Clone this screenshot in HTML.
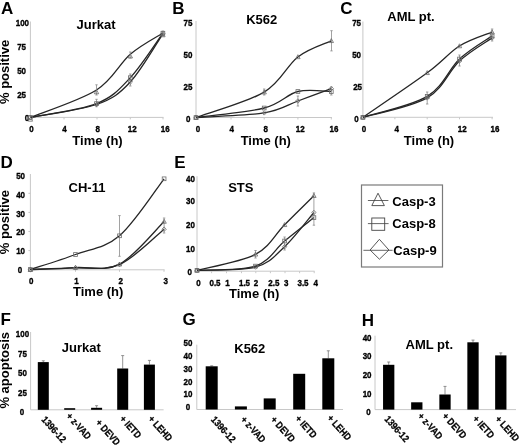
<!DOCTYPE html>
<html><head><meta charset="utf-8"><style>
html,body{margin:0;padding:0;background:#fff;width:520px;height:446px;overflow:hidden}
svg{display:block;filter:blur(0.35px)}
text{font-family:'Liberation Sans',sans-serif;font-weight:bold;fill:#000}
</style></head><body>
<svg width="520" height="446" viewBox="0 0 520 446">
<rect width="520" height="446" fill="#fff"/>
<text x="1.00" y="14.30" font-size="17" text-anchor="start" >A</text>
<text x="172.30" y="14.30" font-size="17" text-anchor="start" >B</text>
<text x="340.20" y="14.20" font-size="17" text-anchor="start" >C</text>
<text x="0.60" y="167.60" font-size="17" text-anchor="start" >D</text>
<text x="174.30" y="167.60" font-size="17" text-anchor="start" >E</text>
<text x="0.50" y="324.80" font-size="17" text-anchor="start" >F</text>
<text x="182.50" y="324.60" font-size="17" text-anchor="start" >G</text>
<text x="361.70" y="325.50" font-size="17" text-anchor="start" >H</text>
<text x="0" y="0" font-size="13" text-anchor="middle" transform="translate(9.4,71.9) rotate(-90)">% positive</text>
<text x="0" y="0" font-size="13" text-anchor="middle" transform="translate(9.4,222.1) rotate(-90)">% positive</text>
<text x="0" y="0" font-size="13" text-anchor="middle" transform="translate(9.4,370.3) rotate(-90)">% apoptosis</text>
<text x="96.10" y="29.30" font-size="13" text-anchor="middle" >Jurkat</text>
<text x="261.70" y="23.80" font-size="13" text-anchor="middle" >K562</text>
<text x="411.00" y="20.60" font-size="13" text-anchor="middle" >AML pt.</text>
<text x="87.00" y="192.30" font-size="13" text-anchor="middle" >CH-11</text>
<text x="240.80" y="192.10" font-size="13" text-anchor="middle" >STS</text>
<text x="81.30" y="352.30" font-size="13" text-anchor="middle" >Jurkat</text>
<text x="249.80" y="353.10" font-size="13" text-anchor="middle" >K562</text>
<text x="429.30" y="348.80" font-size="13" text-anchor="middle" >AML pt.</text>
<text x="97.50" y="145.20" font-size="13" text-anchor="middle" >Time (h)</text>
<text x="265.80" y="145.20" font-size="13" text-anchor="middle" >Time (h)</text>
<text x="429.00" y="145.00" font-size="13" text-anchor="middle" >Time (h)</text>
<text x="98.20" y="295.80" font-size="13" text-anchor="middle" >Time (h)</text>
<text x="254.20" y="298.20" font-size="13" text-anchor="middle" >Time (h)</text>
<line x1="30.40" y1="21.50" x2="30.40" y2="117.40" stroke="#c8c8c8" stroke-width="1"/>
<line x1="30.40" y1="117.40" x2="163.50" y2="117.40" stroke="#c8c8c8" stroke-width="1"/>
<line x1="64.00" y1="117.40" x2="64.00" y2="119.40" stroke="#c8c8c8" stroke-width="1"/>
<line x1="97.00" y1="117.40" x2="97.00" y2="119.40" stroke="#c8c8c8" stroke-width="1"/>
<line x1="130.30" y1="117.40" x2="130.30" y2="119.40" stroke="#c8c8c8" stroke-width="1"/>
<line x1="163.00" y1="117.40" x2="163.00" y2="119.40" stroke="#c8c8c8" stroke-width="1"/>
<text x="0" y="0" font-size="8" text-anchor="middle" transform="translate(22.40,25.50) scale(1,1.22)" stroke="#000" stroke-width="0.3" >100</text>
<text x="0" y="0" font-size="8" text-anchor="middle" transform="translate(21.60,49.90) scale(1,1.22)" stroke="#000" stroke-width="0.3" >75</text>
<text x="0" y="0" font-size="8" text-anchor="middle" transform="translate(21.60,73.90) scale(1,1.22)" stroke="#000" stroke-width="0.3" >50</text>
<text x="0" y="0" font-size="8" text-anchor="middle" transform="translate(21.60,97.90) scale(1,1.22)" stroke="#000" stroke-width="0.3" >25</text>
<text x="0" y="0" font-size="8" text-anchor="middle" transform="translate(26.90,121.10) scale(1,1.22)" stroke="#000" stroke-width="0.3" >0</text>
<text x="0" y="0" font-size="8" text-anchor="middle" transform="translate(31.50,131.70) scale(1,1.22)" stroke="#000" stroke-width="0.3" >0</text>
<text x="0" y="0" font-size="8" text-anchor="middle" transform="translate(64.60,131.70) scale(1,1.22)" stroke="#000" stroke-width="0.3" >4</text>
<text x="0" y="0" font-size="8" text-anchor="middle" transform="translate(97.70,131.70) scale(1,1.22)" stroke="#000" stroke-width="0.3" >8</text>
<text x="0" y="0" font-size="8" text-anchor="middle" transform="translate(132.30,131.70) scale(1,1.22)" stroke="#000" stroke-width="0.3" >12</text>
<text x="0" y="0" font-size="8" text-anchor="middle" transform="translate(165.30,131.70) scale(1,1.22)" stroke="#000" stroke-width="0.3" >16</text>
<path d="M30.40,117.40 C41.42,112.83 79.85,100.53 96.50,90.00 C113.15,79.47 119.23,63.70 130.30,54.20 C141.37,44.70 157.47,36.53 162.90,33.00" fill="none" stroke="#262626" stroke-width="1.3"/>
<path d="M30.40,117.40 C41.42,115.10 79.85,110.22 96.50,103.60 C113.15,96.98 119.23,89.43 130.30,77.70 C141.37,65.97 157.47,40.62 162.90,33.20" fill="none" stroke="#262626" stroke-width="1.3"/>
<path d="M30.40,117.40 C41.42,115.25 79.85,110.40 96.50,104.50 C113.15,98.60 119.23,93.78 130.30,82.00 C141.37,70.22 157.47,41.83 162.90,33.80" fill="none" stroke="#262626" stroke-width="1.3"/>
<line x1="96.50" y1="84.80" x2="96.50" y2="95.00" stroke="#8a8a8a" stroke-width="0.8"/>
<line x1="95.30" y1="84.80" x2="97.70" y2="84.80" stroke="#8a8a8a" stroke-width="0.8"/>
<line x1="95.30" y1="95.00" x2="97.70" y2="95.00" stroke="#8a8a8a" stroke-width="0.8"/>
<line x1="96.50" y1="99.30" x2="96.50" y2="106.70" stroke="#8a8a8a" stroke-width="0.8"/>
<line x1="95.30" y1="99.30" x2="97.70" y2="99.30" stroke="#8a8a8a" stroke-width="0.8"/>
<line x1="95.30" y1="106.70" x2="97.70" y2="106.70" stroke="#8a8a8a" stroke-width="0.8"/>
<line x1="130.30" y1="52.00" x2="130.30" y2="58.00" stroke="#8a8a8a" stroke-width="0.8"/>
<line x1="129.10" y1="52.00" x2="131.50" y2="52.00" stroke="#8a8a8a" stroke-width="0.8"/>
<line x1="129.10" y1="58.00" x2="131.50" y2="58.00" stroke="#8a8a8a" stroke-width="0.8"/>
<line x1="130.30" y1="74.00" x2="130.30" y2="86.00" stroke="#8a8a8a" stroke-width="0.8"/>
<line x1="129.10" y1="74.00" x2="131.50" y2="74.00" stroke="#8a8a8a" stroke-width="0.8"/>
<line x1="129.10" y1="86.00" x2="131.50" y2="86.00" stroke="#8a8a8a" stroke-width="0.8"/>
<line x1="162.90" y1="31.00" x2="162.90" y2="36.00" stroke="#8a8a8a" stroke-width="0.8"/>
<line x1="161.70" y1="31.00" x2="164.10" y2="31.00" stroke="#8a8a8a" stroke-width="0.8"/>
<line x1="161.70" y1="36.00" x2="164.10" y2="36.00" stroke="#8a8a8a" stroke-width="0.8"/>
<path d="M30.40,117.20 L32.60,121.16 L28.20,121.16 Z" fill="none" stroke="#6a6a6a" stroke-width="0.8"/>
<path d="M96.50,89.80 L98.70,93.76 L94.30,93.76 Z" fill="none" stroke="#6a6a6a" stroke-width="0.8"/>
<path d="M130.30,54.00 L132.50,57.96 L128.10,57.96 Z" fill="none" stroke="#6a6a6a" stroke-width="0.8"/>
<path d="M162.90,32.80 L165.10,36.76 L160.70,36.76 Z" fill="none" stroke="#6a6a6a" stroke-width="0.8"/>
<rect x="28.53" y="115.53" width="3.74" height="3.74" fill="none" stroke="#6a6a6a" stroke-width="0.8"/>
<rect x="94.63" y="101.73" width="3.74" height="3.74" fill="none" stroke="#6a6a6a" stroke-width="0.8"/>
<rect x="128.43" y="75.83" width="3.74" height="3.74" fill="none" stroke="#6a6a6a" stroke-width="0.8"/>
<rect x="161.03" y="31.33" width="3.74" height="3.74" fill="none" stroke="#6a6a6a" stroke-width="0.8"/>
<path d="M30.40,115.20 L32.60,117.40 L30.40,119.60 L28.20,117.40 Z" fill="none" stroke="#6a6a6a" stroke-width="0.8"/>
<path d="M96.50,102.30 L98.70,104.50 L96.50,106.70 L94.30,104.50 Z" fill="none" stroke="#6a6a6a" stroke-width="0.8"/>
<path d="M130.30,79.80 L132.50,82.00 L130.30,84.20 L128.10,82.00 Z" fill="none" stroke="#6a6a6a" stroke-width="0.8"/>
<path d="M162.90,31.60 L165.10,33.80 L162.90,36.00 L160.70,33.80 Z" fill="none" stroke="#6a6a6a" stroke-width="0.8"/>
<line x1="196.00" y1="21.00" x2="196.00" y2="117.50" stroke="#c8c8c8" stroke-width="1"/>
<line x1="196.00" y1="117.50" x2="332.00" y2="117.50" stroke="#c8c8c8" stroke-width="1"/>
<line x1="231.00" y1="117.50" x2="231.00" y2="119.50" stroke="#c8c8c8" stroke-width="1"/>
<line x1="264.20" y1="117.50" x2="264.20" y2="119.50" stroke="#c8c8c8" stroke-width="1"/>
<line x1="297.90" y1="117.50" x2="297.90" y2="119.50" stroke="#c8c8c8" stroke-width="1"/>
<line x1="331.30" y1="117.50" x2="331.30" y2="119.50" stroke="#c8c8c8" stroke-width="1"/>
<text x="0" y="0" font-size="8" text-anchor="middle" transform="translate(187.90,25.60) scale(1,1.22)" stroke="#000" stroke-width="0.3" >75</text>
<text x="0" y="0" font-size="8" text-anchor="middle" transform="translate(187.90,57.50) scale(1,1.22)" stroke="#000" stroke-width="0.3" >50</text>
<text x="0" y="0" font-size="8" text-anchor="middle" transform="translate(187.90,89.50) scale(1,1.22)" stroke="#000" stroke-width="0.3" >25</text>
<text x="0" y="0" font-size="8" text-anchor="middle" transform="translate(188.30,121.90) scale(1,1.22)" stroke="#000" stroke-width="0.3" >0</text>
<text x="0" y="0" font-size="8" text-anchor="middle" transform="translate(198.00,131.70) scale(1,1.22)" stroke="#000" stroke-width="0.3" >0</text>
<text x="0" y="0" font-size="8" text-anchor="middle" transform="translate(231.80,131.70) scale(1,1.22)" stroke="#000" stroke-width="0.3" >4</text>
<text x="0" y="0" font-size="8" text-anchor="middle" transform="translate(265.70,131.70) scale(1,1.22)" stroke="#000" stroke-width="0.3" >8</text>
<text x="0" y="0" font-size="8" text-anchor="middle" transform="translate(300.20,131.70) scale(1,1.22)" stroke="#000" stroke-width="0.3" >12</text>
<text x="0" y="0" font-size="8" text-anchor="middle" transform="translate(334.00,131.70) scale(1,1.22)" stroke="#000" stroke-width="0.3" >16</text>
<path d="M196.00,117.50 C207.37,113.27 247.22,102.20 264.20,92.10 C281.18,82.00 286.72,65.45 297.90,56.90 C309.08,48.35 325.73,43.48 331.30,40.80" fill="none" stroke="#262626" stroke-width="1.3"/>
<path d="M196.00,117.50 C207.37,115.92 247.22,112.33 264.20,108.00 C281.18,103.67 286.72,94.23 297.90,91.50 C309.08,88.77 325.73,91.58 331.30,91.60" fill="none" stroke="#262626" stroke-width="1.3"/>
<path d="M196.00,117.50 C207.37,116.73 247.22,115.65 264.20,112.90 C281.18,110.15 286.72,105.05 297.90,101.00 C309.08,96.95 325.73,90.67 331.30,88.60" fill="none" stroke="#262626" stroke-width="1.3"/>
<line x1="331.50" y1="30.70" x2="331.50" y2="50.90" stroke="#8a8a8a" stroke-width="0.8"/>
<line x1="330.30" y1="30.70" x2="332.70" y2="30.70" stroke="#8a8a8a" stroke-width="0.8"/>
<line x1="330.30" y1="50.90" x2="332.70" y2="50.90" stroke="#8a8a8a" stroke-width="0.8"/>
<line x1="264.20" y1="89.00" x2="264.20" y2="95.00" stroke="#8a8a8a" stroke-width="0.8"/>
<line x1="263.00" y1="89.00" x2="265.40" y2="89.00" stroke="#8a8a8a" stroke-width="0.8"/>
<line x1="263.00" y1="95.00" x2="265.40" y2="95.00" stroke="#8a8a8a" stroke-width="0.8"/>
<line x1="297.90" y1="96.00" x2="297.90" y2="106.00" stroke="#8a8a8a" stroke-width="0.8"/>
<line x1="296.70" y1="96.00" x2="299.10" y2="96.00" stroke="#8a8a8a" stroke-width="0.8"/>
<line x1="296.70" y1="106.00" x2="299.10" y2="106.00" stroke="#8a8a8a" stroke-width="0.8"/>
<line x1="331.30" y1="87.00" x2="331.30" y2="95.00" stroke="#8a8a8a" stroke-width="0.8"/>
<line x1="330.10" y1="87.00" x2="332.50" y2="87.00" stroke="#8a8a8a" stroke-width="0.8"/>
<line x1="330.10" y1="95.00" x2="332.50" y2="95.00" stroke="#8a8a8a" stroke-width="0.8"/>
<path d="M196.00,115.30 L198.20,119.26 L193.80,119.26 Z" fill="none" stroke="#6a6a6a" stroke-width="0.8"/>
<path d="M264.20,89.90 L266.40,93.86 L262.00,93.86 Z" fill="none" stroke="#6a6a6a" stroke-width="0.8"/>
<path d="M297.90,54.70 L300.10,58.66 L295.70,58.66 Z" fill="none" stroke="#6a6a6a" stroke-width="0.8"/>
<path d="M331.30,38.60 L333.50,42.56 L329.10,42.56 Z" fill="none" stroke="#6a6a6a" stroke-width="0.8"/>
<rect x="194.13" y="115.63" width="3.74" height="3.74" fill="none" stroke="#6a6a6a" stroke-width="0.8"/>
<rect x="262.33" y="106.13" width="3.74" height="3.74" fill="none" stroke="#6a6a6a" stroke-width="0.8"/>
<rect x="296.03" y="89.63" width="3.74" height="3.74" fill="none" stroke="#6a6a6a" stroke-width="0.8"/>
<rect x="329.43" y="89.73" width="3.74" height="3.74" fill="none" stroke="#6a6a6a" stroke-width="0.8"/>
<path d="M196.00,115.30 L198.20,117.50 L196.00,119.70 L193.80,117.50 Z" fill="none" stroke="#6a6a6a" stroke-width="0.8"/>
<path d="M264.20,110.70 L266.40,112.90 L264.20,115.10 L262.00,112.90 Z" fill="none" stroke="#6a6a6a" stroke-width="0.8"/>
<path d="M297.90,98.80 L300.10,101.00 L297.90,103.20 L295.70,101.00 Z" fill="none" stroke="#6a6a6a" stroke-width="0.8"/>
<path d="M331.30,86.40 L333.50,88.60 L331.30,90.80 L329.10,88.60 Z" fill="none" stroke="#6a6a6a" stroke-width="0.8"/>
<line x1="362.90" y1="21.50" x2="362.90" y2="117.30" stroke="#c8c8c8" stroke-width="1"/>
<line x1="362.90" y1="117.30" x2="493.00" y2="117.30" stroke="#c8c8c8" stroke-width="1"/>
<line x1="394.90" y1="117.30" x2="394.90" y2="119.30" stroke="#c8c8c8" stroke-width="1"/>
<line x1="427.20" y1="117.30" x2="427.20" y2="119.30" stroke="#c8c8c8" stroke-width="1"/>
<line x1="459.50" y1="117.30" x2="459.50" y2="119.30" stroke="#c8c8c8" stroke-width="1"/>
<line x1="492.10" y1="117.30" x2="492.10" y2="119.30" stroke="#c8c8c8" stroke-width="1"/>
<text x="0" y="0" font-size="8" text-anchor="middle" transform="translate(356.60,25.80) scale(1,1.22)" stroke="#000" stroke-width="0.3" >75</text>
<text x="0" y="0" font-size="8" text-anchor="middle" transform="translate(356.60,57.80) scale(1,1.22)" stroke="#000" stroke-width="0.3" >50</text>
<text x="0" y="0" font-size="8" text-anchor="middle" transform="translate(357.60,89.70) scale(1,1.22)" stroke="#000" stroke-width="0.3" >25</text>
<text x="0" y="0" font-size="8" text-anchor="middle" transform="translate(356.40,121.50) scale(1,1.22)" stroke="#000" stroke-width="0.3" >0</text>
<text x="0" y="0" font-size="8" text-anchor="middle" transform="translate(364.00,132.00) scale(1,1.22)" stroke="#000" stroke-width="0.3" >0</text>
<text x="0" y="0" font-size="8" text-anchor="middle" transform="translate(396.80,132.00) scale(1,1.22)" stroke="#000" stroke-width="0.3" >4</text>
<text x="0" y="0" font-size="8" text-anchor="middle" transform="translate(429.40,132.00) scale(1,1.22)" stroke="#000" stroke-width="0.3" >8</text>
<text x="0" y="0" font-size="8" text-anchor="middle" transform="translate(462.30,132.00) scale(1,1.22)" stroke="#000" stroke-width="0.3" >12</text>
<text x="0" y="0" font-size="8" text-anchor="middle" transform="translate(494.90,132.00) scale(1,1.22)" stroke="#000" stroke-width="0.3" >16</text>
<path d="M362.90,117.30 C373.62,109.88 411.10,84.68 427.20,72.80 C443.30,60.92 448.68,52.78 459.50,46.00 C470.32,39.22 486.67,34.42 492.10,32.10" fill="none" stroke="#262626" stroke-width="1.3"/>
<path d="M362.90,117.30 C373.62,113.82 411.10,106.12 427.20,96.40 C443.30,86.68 448.68,69.08 459.50,59.00 C470.32,48.92 486.67,39.75 492.10,35.90" fill="none" stroke="#262626" stroke-width="1.3"/>
<path d="M362.90,117.30 C373.62,114.07 411.10,107.28 427.20,97.90 C443.30,88.52 448.68,71.00 459.50,61.00 C470.32,51.00 486.67,41.75 492.10,37.90" fill="none" stroke="#262626" stroke-width="1.3"/>
<line x1="427.20" y1="92.00" x2="427.20" y2="104.00" stroke="#8a8a8a" stroke-width="0.8"/>
<line x1="426.00" y1="92.00" x2="428.40" y2="92.00" stroke="#8a8a8a" stroke-width="0.8"/>
<line x1="426.00" y1="104.00" x2="428.40" y2="104.00" stroke="#8a8a8a" stroke-width="0.8"/>
<line x1="459.50" y1="55.00" x2="459.50" y2="66.00" stroke="#8a8a8a" stroke-width="0.8"/>
<line x1="458.30" y1="55.00" x2="460.70" y2="55.00" stroke="#8a8a8a" stroke-width="0.8"/>
<line x1="458.30" y1="66.00" x2="460.70" y2="66.00" stroke="#8a8a8a" stroke-width="0.8"/>
<line x1="492.10" y1="29.00" x2="492.10" y2="41.00" stroke="#8a8a8a" stroke-width="0.8"/>
<line x1="490.90" y1="29.00" x2="493.30" y2="29.00" stroke="#8a8a8a" stroke-width="0.8"/>
<line x1="490.90" y1="41.00" x2="493.30" y2="41.00" stroke="#8a8a8a" stroke-width="0.8"/>
<path d="M362.90,115.10 L365.10,119.06 L360.70,119.06 Z" fill="none" stroke="#6a6a6a" stroke-width="0.8"/>
<path d="M427.20,70.60 L429.40,74.56 L425.00,74.56 Z" fill="none" stroke="#6a6a6a" stroke-width="0.8"/>
<path d="M459.50,43.80 L461.70,47.76 L457.30,47.76 Z" fill="none" stroke="#6a6a6a" stroke-width="0.8"/>
<path d="M492.10,29.90 L494.30,33.86 L489.90,33.86 Z" fill="none" stroke="#6a6a6a" stroke-width="0.8"/>
<rect x="361.03" y="115.43" width="3.74" height="3.74" fill="none" stroke="#6a6a6a" stroke-width="0.8"/>
<rect x="425.33" y="94.53" width="3.74" height="3.74" fill="none" stroke="#6a6a6a" stroke-width="0.8"/>
<rect x="457.63" y="57.13" width="3.74" height="3.74" fill="none" stroke="#6a6a6a" stroke-width="0.8"/>
<rect x="490.23" y="34.03" width="3.74" height="3.74" fill="none" stroke="#6a6a6a" stroke-width="0.8"/>
<path d="M362.90,115.10 L365.10,117.30 L362.90,119.50 L360.70,117.30 Z" fill="none" stroke="#6a6a6a" stroke-width="0.8"/>
<path d="M427.20,95.70 L429.40,97.90 L427.20,100.10 L425.00,97.90 Z" fill="none" stroke="#6a6a6a" stroke-width="0.8"/>
<path d="M459.50,58.80 L461.70,61.00 L459.50,63.20 L457.30,61.00 Z" fill="none" stroke="#6a6a6a" stroke-width="0.8"/>
<path d="M492.10,35.70 L494.30,37.90 L492.10,40.10 L489.90,37.90 Z" fill="none" stroke="#6a6a6a" stroke-width="0.8"/>
<line x1="30.40" y1="174.00" x2="30.40" y2="269.80" stroke="#c8c8c8" stroke-width="1"/>
<line x1="28.40" y1="193.30" x2="30.40" y2="193.30" stroke="#c8c8c8" stroke-width="1"/>
<line x1="28.40" y1="212.40" x2="30.40" y2="212.40" stroke="#c8c8c8" stroke-width="1"/>
<line x1="28.40" y1="231.50" x2="30.40" y2="231.50" stroke="#c8c8c8" stroke-width="1"/>
<line x1="28.40" y1="250.60" x2="30.40" y2="250.60" stroke="#c8c8c8" stroke-width="1"/>
<line x1="30.40" y1="269.80" x2="164.60" y2="269.80" stroke="#c8c8c8" stroke-width="1"/>
<line x1="75.50" y1="269.80" x2="75.50" y2="271.80" stroke="#c8c8c8" stroke-width="1"/>
<line x1="119.50" y1="269.80" x2="119.50" y2="271.80" stroke="#c8c8c8" stroke-width="1"/>
<line x1="164.00" y1="269.80" x2="164.00" y2="271.80" stroke="#c8c8c8" stroke-width="1"/>
<text x="0" y="0" font-size="8" text-anchor="middle" transform="translate(20.60,178.80) scale(1,1.22)" stroke="#000" stroke-width="0.3" >50</text>
<text x="0" y="0" font-size="8" text-anchor="middle" transform="translate(20.60,197.80) scale(1,1.22)" stroke="#000" stroke-width="0.3" >40</text>
<text x="0" y="0" font-size="8" text-anchor="middle" transform="translate(20.60,216.70) scale(1,1.22)" stroke="#000" stroke-width="0.3" >30</text>
<text x="0" y="0" font-size="8" text-anchor="middle" transform="translate(20.60,235.40) scale(1,1.22)" stroke="#000" stroke-width="0.3" >20</text>
<text x="0" y="0" font-size="8" text-anchor="middle" transform="translate(20.60,254.20) scale(1,1.22)" stroke="#000" stroke-width="0.3" >10</text>
<text x="0" y="0" font-size="8" text-anchor="middle" transform="translate(20.00,272.50) scale(1,1.22)" stroke="#000" stroke-width="0.3" >0</text>
<text x="0" y="0" font-size="8" text-anchor="middle" transform="translate(31.30,283.60) scale(1,1.22)" stroke="#000" stroke-width="0.3" >0</text>
<text x="0" y="0" font-size="8" text-anchor="middle" transform="translate(76.60,283.60) scale(1,1.22)" stroke="#000" stroke-width="0.3" >1</text>
<text x="0" y="0" font-size="8" text-anchor="middle" transform="translate(120.80,283.60) scale(1,1.22)" stroke="#000" stroke-width="0.3" >2</text>
<text x="0" y="0" font-size="8" text-anchor="middle" transform="translate(165.80,283.60) scale(1,1.22)" stroke="#000" stroke-width="0.3" >3</text>
<path d="M30.40,269.50 C37.92,267.00 60.65,260.12 75.50,254.50 C90.35,248.88 104.73,248.42 119.50,235.80 C134.27,223.18 156.67,188.30 164.10,178.80" fill="none" stroke="#262626" stroke-width="1.3"/>
<path d="M30.40,269.50 C37.92,269.18 60.65,268.48 75.50,267.60 C90.35,266.72 104.73,271.88 119.50,264.20 C134.27,256.52 156.67,228.62 164.10,221.50" fill="none" stroke="#262626" stroke-width="1.3"/>
<path d="M30.40,269.50 C37.92,269.23 60.65,268.72 75.50,267.90 C90.35,267.08 104.73,271.05 119.50,264.60 C134.27,258.15 156.67,235.10 164.10,229.20" fill="none" stroke="#262626" stroke-width="1.3"/>
<line x1="119.50" y1="215.60" x2="119.50" y2="256.30" stroke="#8a8a8a" stroke-width="0.8"/>
<line x1="118.30" y1="215.60" x2="120.70" y2="215.60" stroke="#8a8a8a" stroke-width="0.8"/>
<line x1="118.30" y1="256.30" x2="120.70" y2="256.30" stroke="#8a8a8a" stroke-width="0.8"/>
<line x1="164.10" y1="218.00" x2="164.10" y2="233.00" stroke="#8a8a8a" stroke-width="0.8"/>
<line x1="162.90" y1="218.00" x2="165.30" y2="218.00" stroke="#8a8a8a" stroke-width="0.8"/>
<line x1="162.90" y1="233.00" x2="165.30" y2="233.00" stroke="#8a8a8a" stroke-width="0.8"/>
<rect x="28.53" y="267.63" width="3.74" height="3.74" fill="none" stroke="#6a6a6a" stroke-width="0.8"/>
<rect x="73.63" y="252.63" width="3.74" height="3.74" fill="none" stroke="#6a6a6a" stroke-width="0.8"/>
<rect x="117.63" y="233.93" width="3.74" height="3.74" fill="none" stroke="#6a6a6a" stroke-width="0.8"/>
<rect x="162.23" y="176.93" width="3.74" height="3.74" fill="none" stroke="#6a6a6a" stroke-width="0.8"/>
<path d="M30.40,267.30 L32.60,271.26 L28.20,271.26 Z" fill="none" stroke="#6a6a6a" stroke-width="0.8"/>
<path d="M75.50,265.40 L77.70,269.36 L73.30,269.36 Z" fill="none" stroke="#6a6a6a" stroke-width="0.8"/>
<path d="M119.50,262.00 L121.70,265.96 L117.30,265.96 Z" fill="none" stroke="#6a6a6a" stroke-width="0.8"/>
<path d="M164.10,219.30 L166.30,223.26 L161.90,223.26 Z" fill="none" stroke="#6a6a6a" stroke-width="0.8"/>
<path d="M30.40,267.30 L32.60,269.50 L30.40,271.70 L28.20,269.50 Z" fill="none" stroke="#6a6a6a" stroke-width="0.8"/>
<path d="M75.50,265.70 L77.70,267.90 L75.50,270.10 L73.30,267.90 Z" fill="none" stroke="#6a6a6a" stroke-width="0.8"/>
<path d="M119.50,262.40 L121.70,264.60 L119.50,266.80 L117.30,264.60 Z" fill="none" stroke="#6a6a6a" stroke-width="0.8"/>
<path d="M164.10,227.00 L166.30,229.20 L164.10,231.40 L161.90,229.20 Z" fill="none" stroke="#6a6a6a" stroke-width="0.8"/>
<line x1="197.00" y1="176.20" x2="197.00" y2="271.00" stroke="#c8c8c8" stroke-width="1"/>
<line x1="197.00" y1="271.20" x2="314.60" y2="271.20" stroke="#c8c8c8" stroke-width="1"/>
<line x1="211.60" y1="271.20" x2="211.60" y2="273.20" stroke="#c8c8c8" stroke-width="1"/>
<line x1="226.50" y1="271.20" x2="226.50" y2="273.20" stroke="#c8c8c8" stroke-width="1"/>
<line x1="241.50" y1="271.20" x2="241.50" y2="273.20" stroke="#c8c8c8" stroke-width="1"/>
<line x1="255.80" y1="271.20" x2="255.80" y2="273.20" stroke="#c8c8c8" stroke-width="1"/>
<line x1="270.40" y1="271.20" x2="270.40" y2="273.20" stroke="#c8c8c8" stroke-width="1"/>
<line x1="285.00" y1="271.20" x2="285.00" y2="273.20" stroke="#c8c8c8" stroke-width="1"/>
<line x1="299.60" y1="271.20" x2="299.60" y2="273.20" stroke="#c8c8c8" stroke-width="1"/>
<line x1="314.20" y1="271.20" x2="314.20" y2="273.20" stroke="#c8c8c8" stroke-width="1"/>
<text x="0" y="0" font-size="8" text-anchor="middle" transform="translate(190.40,181.80) scale(1,1.22)" stroke="#000" stroke-width="0.3" >40</text>
<text x="0" y="0" font-size="8" text-anchor="middle" transform="translate(190.40,204.20) scale(1,1.22)" stroke="#000" stroke-width="0.3" >30</text>
<text x="0" y="0" font-size="8" text-anchor="middle" transform="translate(190.40,228.20) scale(1,1.22)" stroke="#000" stroke-width="0.3" >20</text>
<text x="0" y="0" font-size="8" text-anchor="middle" transform="translate(190.40,251.80) scale(1,1.22)" stroke="#000" stroke-width="0.3" >10</text>
<text x="0" y="0" font-size="8" text-anchor="middle" transform="translate(189.70,274.90) scale(1,1.22)" stroke="#000" stroke-width="0.3" >0</text>
<text x="0" y="0" font-size="8" text-anchor="middle" transform="translate(198.40,285.80) scale(1,1.22)" stroke="#000" stroke-width="0.3" >0</text>
<text x="0" y="0" font-size="8" text-anchor="middle" transform="translate(215.00,285.80) scale(1,1.22)" stroke="#000" stroke-width="0.3" >0.5</text>
<text x="0" y="0" font-size="8" text-anchor="middle" transform="translate(227.60,285.80) scale(1,1.22)" stroke="#000" stroke-width="0.3" >1</text>
<text x="0" y="0" font-size="8" text-anchor="middle" transform="translate(244.50,285.80) scale(1,1.22)" stroke="#000" stroke-width="0.3" >1.5</text>
<text x="0" y="0" font-size="8" text-anchor="middle" transform="translate(256.00,285.80) scale(1,1.22)" stroke="#000" stroke-width="0.3" >2</text>
<text x="0" y="0" font-size="8" text-anchor="middle" transform="translate(273.80,285.80) scale(1,1.22)" stroke="#000" stroke-width="0.3" >2.5</text>
<text x="0" y="0" font-size="8" text-anchor="middle" transform="translate(286.30,285.80) scale(1,1.22)" stroke="#000" stroke-width="0.3" >3</text>
<text x="0" y="0" font-size="8" text-anchor="middle" transform="translate(303.00,285.80) scale(1,1.22)" stroke="#000" stroke-width="0.3" >3.5</text>
<text x="0" y="0" font-size="8" text-anchor="middle" transform="translate(315.80,285.80) scale(1,1.22)" stroke="#000" stroke-width="0.3" >4</text>
<path d="M197.00,270.30 C206.75,267.63 240.90,261.88 255.50,254.30 C270.10,246.72 274.87,234.57 284.60,224.80 C294.33,215.03 309.02,200.55 313.90,195.70" fill="none" stroke="#262626" stroke-width="1.3"/>
<path d="M197.00,270.30 C206.75,269.60 240.90,270.98 255.50,266.10 C270.10,261.22 274.87,249.08 284.60,241.00 C294.33,232.92 309.02,221.50 313.90,217.60" fill="none" stroke="#262626" stroke-width="1.3"/>
<path d="M197.00,270.30 C206.75,269.77 240.90,271.03 255.50,267.10 C270.10,263.17 274.87,255.80 284.60,246.70 C294.33,237.60 309.02,218.20 313.90,212.50" fill="none" stroke="#262626" stroke-width="1.3"/>
<line x1="313.90" y1="192.90" x2="313.90" y2="225.20" stroke="#8a8a8a" stroke-width="0.8"/>
<line x1="312.70" y1="192.90" x2="315.10" y2="192.90" stroke="#8a8a8a" stroke-width="0.8"/>
<line x1="312.70" y1="225.20" x2="315.10" y2="225.20" stroke="#8a8a8a" stroke-width="0.8"/>
<line x1="284.60" y1="237.00" x2="284.60" y2="250.00" stroke="#8a8a8a" stroke-width="0.8"/>
<line x1="283.40" y1="237.00" x2="285.80" y2="237.00" stroke="#8a8a8a" stroke-width="0.8"/>
<line x1="283.40" y1="250.00" x2="285.80" y2="250.00" stroke="#8a8a8a" stroke-width="0.8"/>
<line x1="255.50" y1="250.50" x2="255.50" y2="258.00" stroke="#8a8a8a" stroke-width="0.8"/>
<line x1="254.30" y1="250.50" x2="256.70" y2="250.50" stroke="#8a8a8a" stroke-width="0.8"/>
<line x1="254.30" y1="258.00" x2="256.70" y2="258.00" stroke="#8a8a8a" stroke-width="0.8"/>
<path d="M197.00,268.10 L199.20,272.06 L194.80,272.06 Z" fill="none" stroke="#6a6a6a" stroke-width="0.8"/>
<path d="M255.50,252.10 L257.70,256.06 L253.30,256.06 Z" fill="none" stroke="#6a6a6a" stroke-width="0.8"/>
<path d="M284.60,222.60 L286.80,226.56 L282.40,226.56 Z" fill="none" stroke="#6a6a6a" stroke-width="0.8"/>
<path d="M313.90,193.50 L316.10,197.46 L311.70,197.46 Z" fill="none" stroke="#6a6a6a" stroke-width="0.8"/>
<rect x="195.13" y="268.43" width="3.74" height="3.74" fill="none" stroke="#6a6a6a" stroke-width="0.8"/>
<rect x="253.63" y="264.23" width="3.74" height="3.74" fill="none" stroke="#6a6a6a" stroke-width="0.8"/>
<rect x="282.73" y="239.13" width="3.74" height="3.74" fill="none" stroke="#6a6a6a" stroke-width="0.8"/>
<rect x="312.03" y="215.73" width="3.74" height="3.74" fill="none" stroke="#6a6a6a" stroke-width="0.8"/>
<path d="M197.00,268.10 L199.20,270.30 L197.00,272.50 L194.80,270.30 Z" fill="none" stroke="#6a6a6a" stroke-width="0.8"/>
<path d="M255.50,264.90 L257.70,267.10 L255.50,269.30 L253.30,267.10 Z" fill="none" stroke="#6a6a6a" stroke-width="0.8"/>
<path d="M284.60,244.50 L286.80,246.70 L284.60,248.90 L282.40,246.70 Z" fill="none" stroke="#6a6a6a" stroke-width="0.8"/>
<path d="M313.90,210.30 L316.10,212.50 L313.90,214.70 L311.70,212.50 Z" fill="none" stroke="#6a6a6a" stroke-width="0.8"/>
<rect x="361.5" y="185" width="81" height="82" fill="none" stroke="#7a7a7a" stroke-width="1.2"/>
<line x1="367.90" y1="200.50" x2="388.40" y2="200.50" stroke="#555" stroke-width="0.9"/>
<path d="M378,193.2 L384.4,205.6 L371.8,205.6 Z" fill="none" stroke="#444" stroke-width="0.9"/>
<line x1="367.90" y1="223.60" x2="388.60" y2="223.60" stroke="#555" stroke-width="0.9"/>
<rect x="371.8" y="218" width="12.9" height="12.3" fill="none" stroke="#444" stroke-width="0.9"/>
<line x1="363.40" y1="250.30" x2="392.60" y2="250.30" stroke="#555" stroke-width="0.9"/>
<path d="M379.4,239.3 L388.9,250 L379.4,259.2 L370.1,250 Z" fill="none" stroke="#444" stroke-width="0.9"/>
<text x="392.30" y="205.50" font-size="13" text-anchor="start" >Casp-3</text>
<text x="392.30" y="227.70" font-size="13" text-anchor="start" >Casp-8</text>
<text x="393.30" y="255.30" font-size="13" text-anchor="start" >Casp-9</text>
<line x1="30.60" y1="332.00" x2="30.60" y2="409.80" stroke="#c8c8c8" stroke-width="1"/>
<text x="0" y="0" font-size="8" text-anchor="middle" transform="translate(22.50,336.80) scale(1,1.22)" stroke="#000" stroke-width="0.3" >100</text>
<text x="0" y="0" font-size="8" text-anchor="middle" transform="translate(22.40,356.50) scale(1,1.22)" stroke="#000" stroke-width="0.3" >75</text>
<text x="0" y="0" font-size="8" text-anchor="middle" transform="translate(22.40,376.30) scale(1,1.22)" stroke="#000" stroke-width="0.3" >50</text>
<text x="0" y="0" font-size="8" text-anchor="middle" transform="translate(22.40,396.10) scale(1,1.22)" stroke="#000" stroke-width="0.3" >25</text>
<text x="0" y="0" font-size="8" text-anchor="middle" transform="translate(22.00,414.80) scale(1,1.22)" stroke="#000" stroke-width="0.3" >0</text>
<line x1="30.60" y1="409.80" x2="163.60" y2="409.80" stroke="#c8c8c8" stroke-width="1"/>
<line x1="43.30" y1="360.80" x2="43.30" y2="362.10" stroke="#777" stroke-width="0.8"/>
<line x1="41.80" y1="360.80" x2="44.80" y2="360.80" stroke="#777" stroke-width="0.8"/>
<rect x="37.80" y="362.10" width="11" height="47.70" fill="#000"/>
<rect x="64.20" y="408.20" width="11" height="1.60" fill="#000"/>
<line x1="96.60" y1="405.70" x2="96.60" y2="407.80" stroke="#777" stroke-width="0.8"/>
<line x1="95.10" y1="405.70" x2="98.10" y2="405.70" stroke="#777" stroke-width="0.8"/>
<rect x="91.10" y="407.80" width="11" height="2.00" fill="#000"/>
<line x1="122.70" y1="355.60" x2="122.70" y2="368.50" stroke="#777" stroke-width="0.8"/>
<line x1="121.20" y1="355.60" x2="124.20" y2="355.60" stroke="#777" stroke-width="0.8"/>
<rect x="117.20" y="368.50" width="11" height="41.30" fill="#000"/>
<line x1="149.40" y1="360.40" x2="149.40" y2="364.60" stroke="#777" stroke-width="0.8"/>
<line x1="147.90" y1="360.40" x2="150.90" y2="360.40" stroke="#777" stroke-width="0.8"/>
<rect x="143.90" y="364.60" width="11" height="45.20" fill="#000"/>
<line x1="196.80" y1="344.70" x2="196.80" y2="409.50" stroke="#c8c8c8" stroke-width="1"/>
<text x="0" y="0" font-size="8" text-anchor="middle" transform="translate(187.90,346.10) scale(1,1.22)" stroke="#000" stroke-width="0.3" >50</text>
<text x="0" y="0" font-size="8" text-anchor="middle" transform="translate(187.90,358.90) scale(1,1.22)" stroke="#000" stroke-width="0.3" >40</text>
<text x="0" y="0" font-size="8" text-anchor="middle" transform="translate(187.90,371.80) scale(1,1.22)" stroke="#000" stroke-width="0.3" >30</text>
<text x="0" y="0" font-size="8" text-anchor="middle" transform="translate(187.90,384.70) scale(1,1.22)" stroke="#000" stroke-width="0.3" >20</text>
<text x="0" y="0" font-size="8" text-anchor="middle" transform="translate(187.90,397.40) scale(1,1.22)" stroke="#000" stroke-width="0.3" >10</text>
<text x="0" y="0" font-size="8" text-anchor="middle" transform="translate(187.90,410.10) scale(1,1.22)" stroke="#000" stroke-width="0.3" >0</text>
<line x1="196.80" y1="409.50" x2="343.00" y2="409.50" stroke="#c8c8c8" stroke-width="1"/>
<line x1="211.70" y1="365.80" x2="211.70" y2="366.30" stroke="#777" stroke-width="0.8"/>
<line x1="210.20" y1="365.80" x2="213.20" y2="365.80" stroke="#777" stroke-width="0.8"/>
<rect x="205.70" y="366.30" width="12" height="43.20" fill="#000"/>
<rect x="234.90" y="406.40" width="12" height="3.10" fill="#000"/>
<rect x="263.70" y="398.40" width="12" height="11.10" fill="#000"/>
<rect x="293.20" y="373.80" width="12" height="35.70" fill="#000"/>
<line x1="328.30" y1="350.80" x2="328.30" y2="358.30" stroke="#777" stroke-width="0.8"/>
<line x1="326.80" y1="350.80" x2="329.80" y2="350.80" stroke="#777" stroke-width="0.8"/>
<rect x="322.30" y="358.30" width="12" height="51.20" fill="#000"/>
<line x1="375.00" y1="335.70" x2="375.00" y2="409.60" stroke="#c8c8c8" stroke-width="1"/>
<text x="0" y="0" font-size="8" text-anchor="middle" transform="translate(367.10,340.70) scale(1,1.22)" stroke="#000" stroke-width="0.3" >40</text>
<text x="0" y="0" font-size="8" text-anchor="middle" transform="translate(367.10,358.90) scale(1,1.22)" stroke="#000" stroke-width="0.3" >30</text>
<text x="0" y="0" font-size="8" text-anchor="middle" transform="translate(367.10,377.60) scale(1,1.22)" stroke="#000" stroke-width="0.3" >20</text>
<text x="0" y="0" font-size="8" text-anchor="middle" transform="translate(367.10,396.60) scale(1,1.22)" stroke="#000" stroke-width="0.3" >10</text>
<text x="0" y="0" font-size="8" text-anchor="middle" transform="translate(368.50,414.60) scale(1,1.22)" stroke="#000" stroke-width="0.3" >0</text>
<line x1="375.00" y1="409.60" x2="516.00" y2="409.60" stroke="#c8c8c8" stroke-width="1"/>
<line x1="388.70" y1="362.00" x2="388.70" y2="364.80" stroke="#777" stroke-width="0.8"/>
<line x1="387.20" y1="362.00" x2="390.20" y2="362.00" stroke="#777" stroke-width="0.8"/>
<rect x="383.05" y="364.80" width="11.3" height="44.80" fill="#000"/>
<rect x="411.15" y="402.30" width="11.3" height="7.30" fill="#000"/>
<line x1="445.00" y1="386.40" x2="445.00" y2="394.50" stroke="#777" stroke-width="0.8"/>
<line x1="443.50" y1="386.40" x2="446.50" y2="386.40" stroke="#777" stroke-width="0.8"/>
<rect x="439.35" y="394.50" width="11.3" height="15.10" fill="#000"/>
<line x1="473.00" y1="340.10" x2="473.00" y2="342.30" stroke="#777" stroke-width="0.8"/>
<line x1="471.50" y1="340.10" x2="474.50" y2="340.10" stroke="#777" stroke-width="0.8"/>
<rect x="467.35" y="342.30" width="11.3" height="67.30" fill="#000"/>
<line x1="500.80" y1="352.90" x2="500.80" y2="355.40" stroke="#777" stroke-width="0.8"/>
<line x1="499.30" y1="352.90" x2="502.30" y2="352.90" stroke="#777" stroke-width="0.8"/>
<rect x="495.15" y="355.40" width="11.3" height="54.20" fill="#000"/>
<text x="0" y="0" font-size="8.5" text-anchor="start" transform="translate(41.00,420.00) rotate(48) scale(1,1.15)" stroke="#000" stroke-width="0.25">1396-12</text>
<text x="0" y="0" font-size="8.5" text-anchor="start" transform="translate(65.70,416.50) rotate(48) scale(1,1.15)" stroke="#000" stroke-width="0.25">+ z-VAD</text>
<text x="0" y="0" font-size="8.5" text-anchor="start" transform="translate(95.20,423.00) rotate(48) scale(1,1.15)" stroke="#000" stroke-width="0.25">+ DEVD</text>
<text x="0" y="0" font-size="8.5" text-anchor="start" transform="translate(119.20,419.20) rotate(48) scale(1,1.15)" stroke="#000" stroke-width="0.25">+ IETD</text>
<text x="0" y="0" font-size="8.5" text-anchor="start" transform="translate(147.70,419.20) rotate(48) scale(1,1.15)" stroke="#000" stroke-width="0.25">+ LEHD</text>
<text x="0" y="0" font-size="8.5" text-anchor="start" transform="translate(210.50,420.00) rotate(48) scale(1,1.15)" stroke="#000" stroke-width="0.25">1396-12</text>
<text x="0" y="0" font-size="8.5" text-anchor="start" transform="translate(240.20,419.90) rotate(48) scale(1,1.15)" stroke="#000" stroke-width="0.25">+ z-VAD</text>
<text x="0" y="0" font-size="8.5" text-anchor="start" transform="translate(270.20,419.90) rotate(48) scale(1,1.15)" stroke="#000" stroke-width="0.25">+ DEVD</text>
<text x="0" y="0" font-size="8.5" text-anchor="start" transform="translate(294.70,419.10) rotate(48) scale(1,1.15)" stroke="#000" stroke-width="0.25">+ IETD</text>
<text x="0" y="0" font-size="8.5" text-anchor="start" transform="translate(326.70,418.50) rotate(48) scale(1,1.15)" stroke="#000" stroke-width="0.25">+ LEHD</text>
<text x="0" y="0" font-size="8.5" text-anchor="start" transform="translate(384.00,419.50) rotate(48) scale(1,1.15)" stroke="#000" stroke-width="0.25">1396-12</text>
<text x="0" y="0" font-size="8.5" text-anchor="start" transform="translate(417.20,416.60) rotate(48) scale(1,1.15)" stroke="#000" stroke-width="0.25">+ z-VAD</text>
<text x="0" y="0" font-size="8.5" text-anchor="start" transform="translate(441.70,416.40) rotate(48) scale(1,1.15)" stroke="#000" stroke-width="0.25">+ DEVD</text>
<text x="0" y="0" font-size="8.5" text-anchor="start" transform="translate(472.20,419.20) rotate(48) scale(1,1.15)" stroke="#000" stroke-width="0.25">+ IETD</text>
<text x="0" y="0" font-size="8.5" text-anchor="start" transform="translate(494.70,419.40) rotate(48) scale(1,1.15)" stroke="#000" stroke-width="0.25">+ LEHD</text>
</svg></body></html>
